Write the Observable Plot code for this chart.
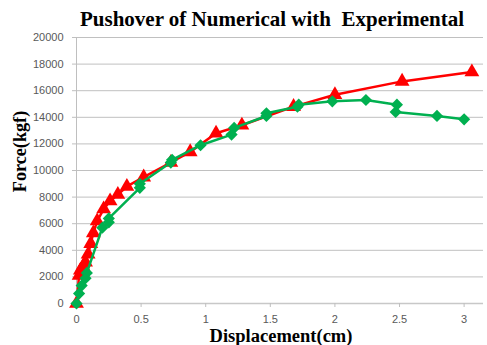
<!DOCTYPE html>
<html>
<head>
<meta charset="utf-8">
<script src="https://cdn.jsdelivr.net/npm/d3@7"></script>
<script src="https://cdn.jsdelivr.net/npm/@observablehq/plot@0.6"></script>
<style>
  html, body { margin: 0; padding: 0; background: #fff; }
</style>
</head>
<body>
<div id="chart"></div>
<script>
// Numerical (red triangles)
const numX = [0, 0.02, 0.03, 0.05, 0.07, 0.09, 0.11, 0.13, 0.16, 0.21, 0.26, 0.32, 0.39, 0.52, 0.73, 0.88, 1.08, 1.28, 1.68, 2.0, 2.52, 3.06];
const numY = [0, 2100, 2500, 2800, 3100, 3700, 4500, 5300, 6200, 7100, 7700, 8200, 8800, 9500, 10600, 11400, 12800, 13400, 14800, 15700, 16700, 17400];
// Experimental (green diamonds)
const expX = [0, 0.02, 0.04, 0.07, 0.08, 0.2, 0.25, 0.25, 0.49, 0.49, 0.73, 0.74, 0.96, 1.2, 1.22, 1.47, 1.47, 1.71, 1.72, 1.98, 2.24, 2.48, 2.47, 2.79, 3.0];
const expY = [0, 750, 1350, 1900, 2300, 5700, 6100, 6400, 8700, 9000, 10600, 10800, 11900, 12700, 13200, 14100, 14300, 14800, 14950, 15200, 15300, 14950, 14400, 14100, 13850];

const xTicks = [0, 0.5, 1, 1.5, 2, 2.5, 3];
const yTicks = [0, 2000, 4000, 6000, 8000, 10000, 12000, 14000, 16000, 18000, 20000];

const titleText = "Pushover of Numerical with  Experimental";
const xLabel = "Displacement(cm)";
const yLabel = "Force(kgf)";

const numerical = numX.map((x, i) => ({x, y: numY[i]}));
const experimental = expX.map((x, i) => ({x, y: expY[i]}));

const serif = "'Liberation Serif', 'Times New Roman', serif";

const chart = Plot.plot({
  width: 487,
  height: 345,
  marginLeft: 76,
  marginRight: 4,
  marginTop: 37,
  marginBottom: 42,
  style: {fontFamily: "'Liberation Sans', Arial, sans-serif", fontSize: "11px", color: "#595959", background: "#fff", overflow: "visible"},
  x: {domain: [0, 3.15], label: null},
  y: {domain: [0, 20000], label: null},
  marks: [
    Plot.gridY(yTicks, {stroke: "#c0c0c0", strokeOpacity: 1, strokeWidth: 1}),
    Plot.ruleX([0], {stroke: "#bfbfbf", strokeWidth: 1}),
    Plot.ruleY([0], {stroke: "#c8c8c8", strokeWidth: 1.5}),
    Plot.axisX({ticks: xTicks, tickSize: 4, tickPadding: 8, stroke: "#bfbfbf", fill: "#595959", tickFormat: d => String(d), label: null}),
    Plot.axisY({ticks: yTicks, tickSize: 4, tickPadding: 9, stroke: "#bfbfbf", fill: "#595959", tickFormat: d => String(d), label: null}),
    Plot.line(numerical, {x: "x", y: "y", stroke: "#ff0000", strokeWidth: 2.5}),
    Plot.dot(numerical, {x: "x", y: "y", symbol: "triangle", fill: "#ff0000", stroke: "none", r: 5.5}),
    Plot.line(experimental, {x: "x", y: "y", stroke: "#00b050", strokeWidth: 2.5}),
    Plot.dot(experimental, {x: "x", y: "y", symbol: "diamond2", fill: "#00b050", stroke: "none", r: 5.5}),
    Plot.text([titleText], {frameAnchor: "top", textAnchor: "middle", lineAnchor: "bottom", dy: -12, dx: -8, fontFamily: serif, fontWeight: "bold", fontSize: 21, fill: "#000"}),
    Plot.text([xLabel], {frameAnchor: "bottom", textAnchor: "middle", lineAnchor: "bottom", dy: 38, dx: 1, fontFamily: serif, fontWeight: "bold", fontSize: 18.5, fill: "#000"}),
    Plot.text([yLabel], {frameAnchor: "left", textAnchor: "middle", rotate: -90, lineAnchor: "bottom", dx: -51, dy: -19, fontFamily: serif, fontWeight: "bold", fontSize: 18.2, fill: "#000"})
  ]
});
document.getElementById("chart").appendChild(chart);
</script>
</body>
</html>
